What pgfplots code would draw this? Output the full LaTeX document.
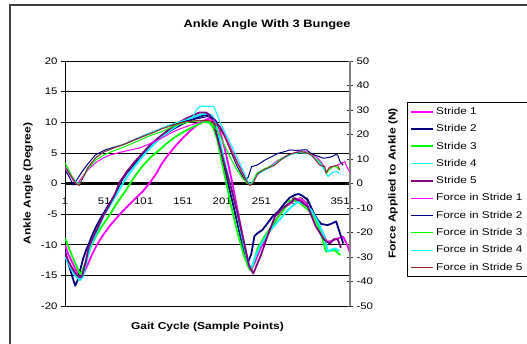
\documentclass[border=0pt]{standalone}
\usepackage{pgfplots}
\pgfplotsset{compat=1.18}
\usepackage{fontspec}
\setmainfont{Liberation Sans}[FakeStretch=1.2]
\definecolor{navyc}{RGB}{0,0,128}
\definecolor{magc}{RGB}{255,0,255}
\definecolor{grnc}{RGB}{0,255,0}
\definecolor{cyac}{RGB}{0,255,255}
\definecolor{purc}{RGB}{128,0,128}
\definecolor{brnc}{RGB}{150,40,40}
\begin{document}
\begin{tikzpicture}
\useasboundingbox (0,0) rectangle (527pt,343pt);
\fill[white] (0,0) rectangle (527pt,343pt);
\draw[line width=1.6pt, black!75] (10pt,338pt) rectangle (540pt,-10pt);
\begin{axis}[
  at={(65pt,37pt)}, anchor=south west, scale only axis, width=285pt, height=245pt,
  xmin=1, xmax=363.6, ymin=-20, ymax=20,
  axis x line*=middle, axis y line*=left,
  hide obscured x ticks=false,
  xtick={1,51,101,151,201,251,301,351},
  ytick={-20,-15,-10,-5,0,5,10,15,20},
  ymajorgrids,
  grid style={black, line width=0.7pt},
  y axis line style={black, line width=1pt},
  x axis line style={black, line width=3pt, dash pattern=on 0.6pt off 0.2pt},
  x tick style={draw=none},
  y tick style={black, line width=0.7pt},
  tick align=outside, major tick length=4pt,
  xticklabel style={yshift=-7pt},
  tick label style={font=\fontsize{9.5}{11}\selectfont},
  ylabel={Ankle Angle (Degree)},
  ylabel style={at={(axis description cs:-0.13,0.5)}, anchor=center, font=\bfseries\fontsize{10}{12}\selectfont},
  xlabel={Gait Cycle (Sample Points)},
  xlabel style={at={(axis description cs:0.5,-0.085)}, anchor=center, font=\bfseries\fontsize{10}{12}\selectfont},
  title={Ankle Angle With 3 Bungee},
  title style={at={(axis description cs:0.709,1.122)}, anchor=center, font=\bfseries\fontsize{10.7}{13}\selectfont},
  /pgf/number format/assume math mode=true,
  every axis plot/.append style={line join=round, line width=1.8pt},
]
\addplot[magc] coordinates {(1,-10)(5,-11.5)(10,-12.8)(15,-14.2)(21,-15.4)(25,-14.6)(30,-13.2)(35,-11.7)(41.7,-10)(50,-8.3)(60,-6.6)(71,-5)(80,-3.8)(90,-2.5)(100,-1.3)(110,0.3)(118,1.8)(124,3.2)(130,4.3)(140,5.9)(150,7.3)(160,8.6)(170,9.6)(180,10.4)(188,10.8)(193,10.2)(198,8.6)(204,5.8)(210,2.4)(214,0)(220,-4)(228,-9.2)(234,-12.8)(238,-14.1)(242,-13)(250,-10.5)(260,-8)(270,-5.8)(280,-4)(290,-3)(298,-2.5)(305,-2.8)(312,-4)(320,-5.8)(328,-7.8)(334,-9.5)(340,-9.4)(345,-9.1)(350,-8.9)(355,-8.7)(360,-10)(363,-11.1)};
\addplot[navyc] coordinates {(1,-11)(4,-12.5)(8,-14.2)(11,-15.5)(14,-16.7)(17,-15.8)(20,-14.3)(24,-12.3)(28,-10.8)(31,-10)(35,-8.6)(40,-7.2)(45,-6)(50,-4.9)(55,-3.8)(60,-2.8)(66,-1.5)(72,0.3)(80,1.8)(90,3.3)(100,4.7)(110,6)(120,7.2)(130,8.2)(140,9)(150,9.7)(160,10.3)(170,10.8)(180,11.2)(187,11.1)(192,9.8)(197,7)(202,3.5)(208,0.2)(215,-3.5)(222,-7.5)(229,-11.2)(234,-12.8)(238,-11.5)(242,-8.6)(246,-8.1)(252,-7.6)(258,-6.6)(265,-5.4)(272,-4.6)(280,-3.3)(287,-2.3)(293,-1.9)(298,-1.7)(303,-2)(310,-2.7)(318,-5)(323,-6)(327,-6.6)(335,-6.8)(341,-6.5)(346,-6.2)(350,-7.8)(355,-9.8)};
\addplot[grnc] coordinates {(1,-8.9)(5,-10.2)(10,-11.8)(15,-13.3)(20,-14.8)(23,-14.3)(28,-12.5)(35,-10)(42,-8.2)(50,-6.6)(58.6,-5)(65,-3.6)(72,-2.3)(78,-1.2)(84,0)(90,1.2)(100,2.9)(110,4.3)(123,5.7)(130,6.5)(140,7.5)(150,8.3)(160,9)(170,9.6)(178,10.1)(185,9.9)(190,9)(195,7)(200,3.8)(206,0.2)(212,-3.5)(220,-7.8)(228,-11.5)(234,-13.6)(237,-14.2)(241,-13)(246,-10.6)(255,-8.6)(265,-6.8)(275,-5)(282,-3.8)(287,-2.8)(292,-2.7)(300,-3.2)(310,-4.3)(319,-5.6)(326,-8)(333,-11.1)(338,-11)(344,-10.9)(348,-11.3)(351,-11.7)};
\addplot[cyac] coordinates {(1,-12)(5,-13)(10,-14.2)(15,-15.2)(20,-15.8)(24,-15.2)(28,-13)(33,-10.5)(40,-8.4)(50,-5.3)(60,-3.2)(68,-1.5)(76,0.3)(85,2)(95,3.7)(105,5.2)(115,6.6)(124,7.6)(135,8.7)(145,9.6)(155,10.3)(165,10.9)(175,11.3)(182,11.4)(188,11.1)(193,9.8)(198,7)(204,3.6)(210,0.5)(217,-3)(225,-8)(232,-12)(236,-13.8)(239,-13.5)(243,-12)(250,-10)(260,-8)(270,-6.5)(280,-5)(289,-3.8)(297,-3)(305,-3.3)(314,-4.3)(322,-6)(331,-8.7)(335.6,-11.1)(340,-10.8)(344,-10.6)(350,-11)};
\addplot[purc] coordinates {(1,-11.3)(5,-12.6)(10,-13.8)(15,-14.8)(20,-15.4)(23,-15)(27,-13)(31,-10.5)(36,-9)(42,-7.4)(50,-5.2)(57,-3.6)(64,-1.9)(71,0.3)(80,2)(90,3.6)(100,5)(110,6.4)(124,7.9)(135,9)(145,9.9)(155,10.6)(165,11.2)(172,11.6)(180,11.6)(185,11.2)(190,9.8)(196,7)(202,4)(208,1.2)(213,-1)(220,-4.6)(228,-9.2)(235,-13.4)(240.6,-14.7)(244,-13.6)(250,-11.8)(258,-8.8)(268,-5.4)(278,-4)(289,-3)(293,-2.5)(300,-2.8)(310,-3.8)(320,-7)(331,-9.2)(338,-9.8)(343,-9.1)(348,-9.1)(352,-10.5)};
\end{axis}
\begin{axis}[
  at={(65pt,37pt)}, anchor=south west, scale only axis, width=285pt, height=245pt,
  xmin=1, xmax=363.6, ymin=-50, ymax=50,
  axis y line*=right, axis x line=none,
  ytick={-50,-40,-30,-20,-10,0,10,20,30,40,50},
  y axis line style={black!50, line width=1.6pt},
  y tick style={black!80, line width=0.7pt},
  tick align=center, major tick length=6pt,
  tick label style={font=\fontsize{9.5}{11}\selectfont},
  ylabel={Force Applied to Ankle (N)},
  ylabel style={at={(axis description cs:1.151,0.5)}, anchor=center, font=\bfseries\fontsize{10}{12}\selectfont},
  /pgf/number format/assume math mode=true,
  every axis plot/.append style={line join=round, line width=1pt},
  legend style={at={(axis description cs:1.2,0.8327)}, anchor=north west, draw=black, line width=0.8pt,
    font=\fontsize{9.8}{11}\selectfont, cells={anchor=west}, row sep=4.7pt, inner xsep=3pt, inner ysep=3pt},
  legend image code/.code={\draw[#1] (0pt,0pt) -- (22pt,0pt);},
]
\addlegendimage{magc, line width=1.8pt}\addlegendentry{Stride 1}
\addlegendimage{navyc, line width=1.8pt}\addlegendentry{Stride 2}
\addlegendimage{grnc, line width=1.8pt}\addlegendentry{Stride 3}
\addlegendimage{cyac, line width=1.8pt}\addlegendentry{Stride 4}
\addlegendimage{purc, line width=1.8pt}\addlegendentry{Stride 5}
\addplot[magc] coordinates {(1,6.3)(5,4.5)(10,2)(14,0)(18,0.5)(25,3.5)(30,5.5)(40,8.5)(50,10.5)(60,11.8)(70,12.6)(80,13.4)(95,14.4)(110,16.4)(124,18.5)(135,20.5)(145,22)(155,23.2)(165,24.3)(175,25.3)(185,26)(192,25.5)(198,23.5)(205,19.5)(212,14.5)(220,9)(228,4)(234,0.5)(237,-0.5)(240,0.8)(245,3.5)(252,5)(262,7)(272,9.5)(282,11.2)(292,12.5)(300,13.2)(305,13.2)(312,12.5)(318,11.5)(325,9.5)(331,6.9)(334,4.5)(338,6.8)(343,7)(348,7.5)(352,8.2)(357,8.9)(360,6.5)(363,4.8)};
\addlegendentry{Force in Stride 1}
\addplot[navyc] coordinates {(1,5.5)(5,3.5)(9,1)(12,-0.6)(16,1.5)(22.6,4.8)(30,8)(39.5,11.6)(52,13.7)(63,14.8)(73.5,15.7)(85,17.3)(103,19.8)(115,21.3)(124,22.5)(135,23.8)(145,24.8)(155,25.6)(165,26.2)(175,26.8)(182,27.3)(188,27)(193,25.5)(200,22)(207,17)(214,11.5)(220,7)(226,3.5)(230,1.4)(234,2.5)(238.5,6.9)(245,7.5)(249,8.2)(255,9.5)(263.5,10.9)(272,12.3)(280.5,13)(287,13.7)(295,13.5)(303,13.7)(308.5,13.7)(313,12.5)(318.7,11.6)(325,10.9)(330,10.3)(336,10.6)(341,11)(346,11.9)(348,11.6)(351,8.9)(355,7.5)};
\addlegendentry{Force in Stride 2}
\addplot[grnc] coordinates {(1,8.4)(5,6)(10,3)(15,0.5)(19,-0.3)(25,3)(30,6)(40,9.5)(50,11.5)(60,13)(75,14.8)(90,16.8)(105,19)(124,21.2)(135,22.8)(145,24)(155,24.8)(165,25.4)(175,25.6)(182,25.5)(188,24.5)(195,21.5)(202,17)(210,11.5)(218,6.5)(226,2.5)(232,0.3)(236,-0.5)(240,1)(245,4.2)(255,6)(262,7)(268,8)(275,10)(285,11.6)(292,12.3)(302,13)(310,12.5)(317,10.9)(325,8.9)(331,6.2)(334,4.2)(337,5.5)(342,6.9)(346,6.8)(350,5.5)};
\addlegendentry{Force in Stride 3}
\addplot[cyac] coordinates {(1,7)(5,5)(10,2.5)(15,0.3)(19,-0.5)(25,3)(30,6.5)(40,10.5)(50,12.8)(63,14.5)(75,15.8)(90,17.8)(105,20)(124,22.5)(135,24)(145,25)(155,26)(164,27.3)(168,30)(173,31.5)(190,31.5)(193,29.5)(198,25.2)(205,20.5)(212,16)(220,10.5)(228,5)(233,1.5)(236,-0.5)(240,0.5)(245,3.5)(255,5.5)(262,6.5)(270,8.5)(280,10.5)(290,12)(300,12.6)(310,12.3)(318,10.5)(326,8)(331,5.5)(335.6,2.8)(340,4.2)(344,4.8)(348,4.8)(350,3.8)};
\addlegendentry{Force in Stride 4}
\addplot[brnc] coordinates {(1,7)(5,5)(10,2.5)(15,0)(19,-0.8)(25,3)(30,6.5)(40,10.5)(50,12.8)(63,14.5)(75,15.8)(90,17.8)(103,19.5)(115,21)(124,22.3)(135,23.5)(145,24.5)(155,25.2)(165,25.6)(175,25.8)(185,25.6)(192,24.5)(198,22.5)(205,18.5)(212,13.5)(220,8.5)(227,4)(232,1)(236,-0.8)(240,0)(246.5,4.2)(255,5.8)(267.8,7.5)(275,9.5)(284.7,11.6)(293,12.5)(301.6,13)(308,12.5)(314.7,11.6)(320,9.5)(325,7.5)(331.4,6.9)(333,4.2)(337,6.5)(342,7)(348,7.5)(350.5,5.5)};
\addlegendentry{Force in Stride 5}
\end{axis}
\end{tikzpicture}
\end{document}
